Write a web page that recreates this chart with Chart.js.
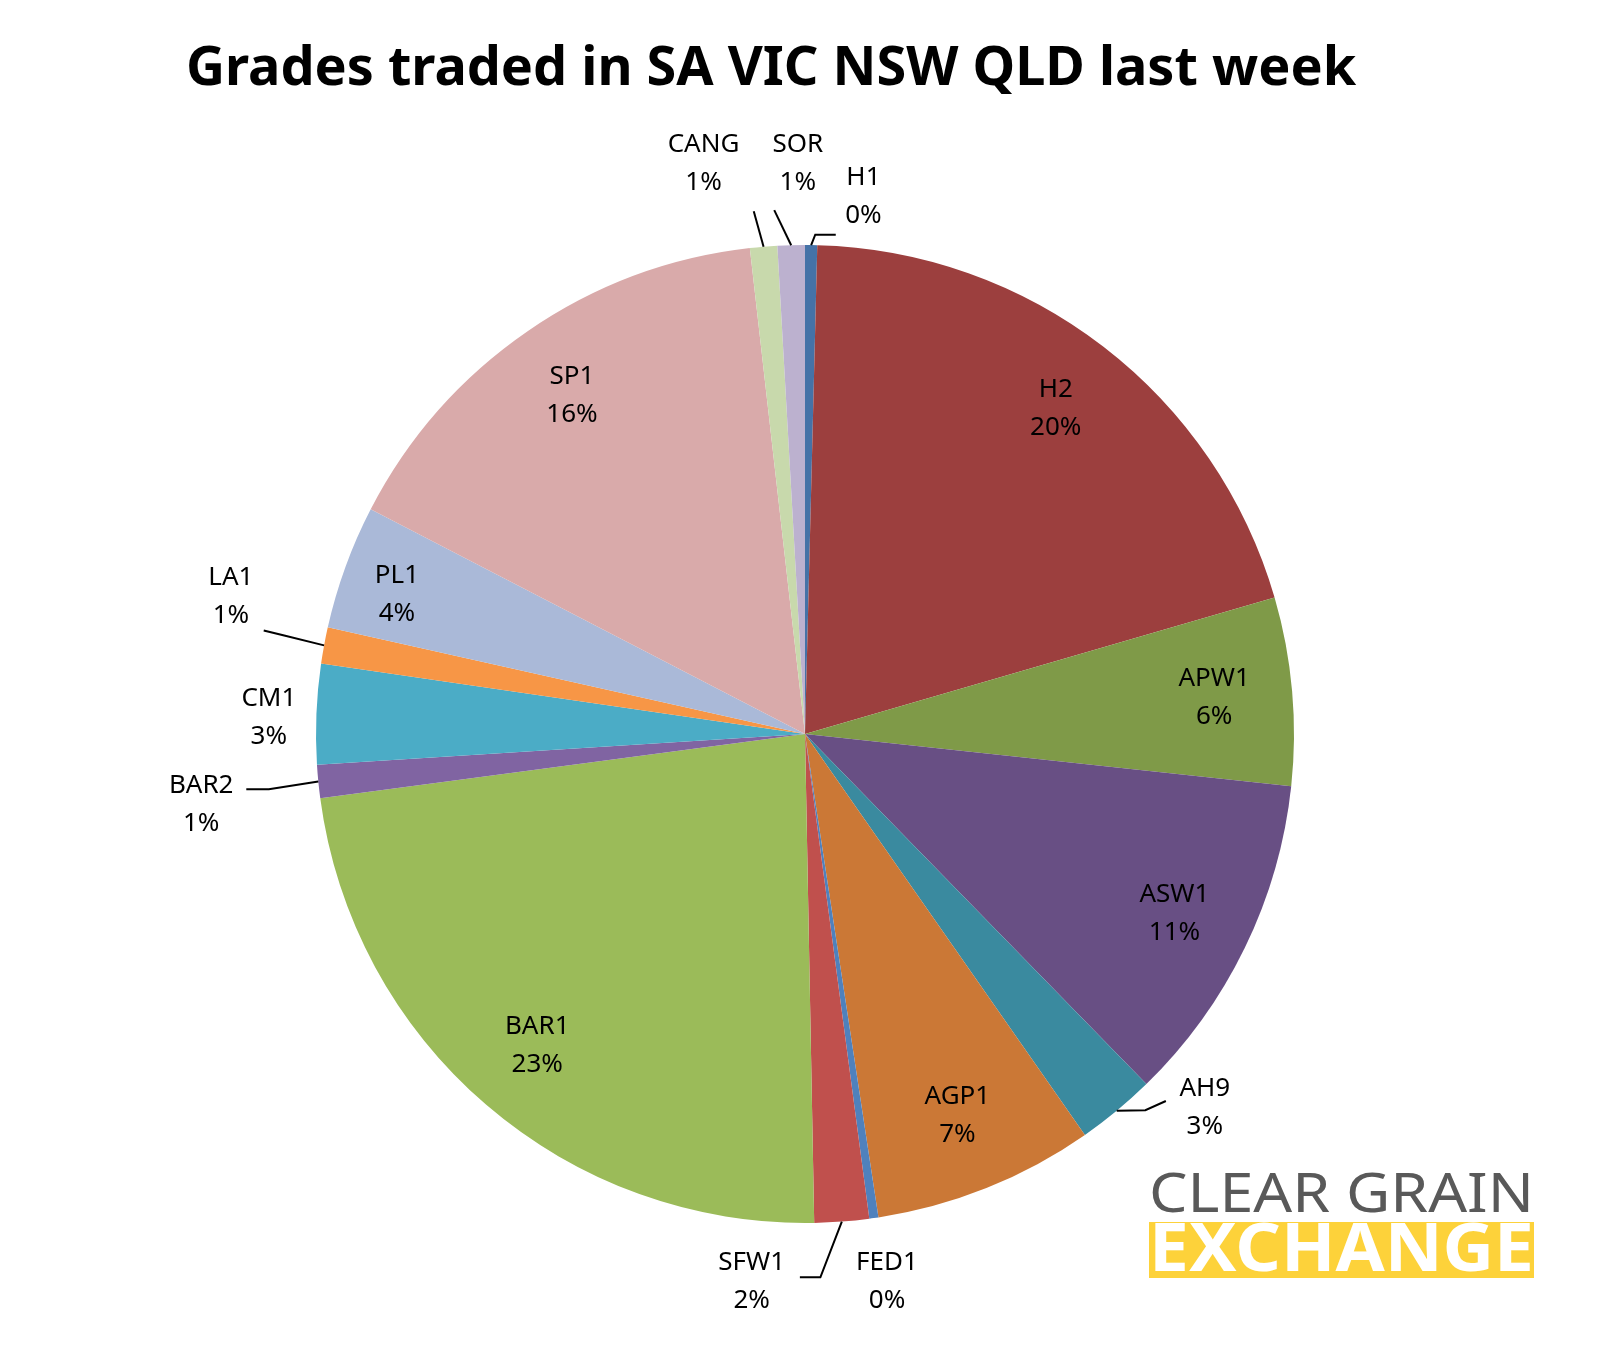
<!DOCTYPE html>
<html><head><meta charset="utf-8">
<script src="https://cdn.jsdelivr.net/npm/chart.js@4/dist/chart.umd.min.js"></script>
<style>html,body{margin:0;padding:0;background:#fff}#w{width:1609px;height:1351px}</style>
</head><body><div id="w"><canvas id="c"></canvas></div>
<script>
const grades = ["H1","H2","APW1","ASW1","AH9","AGP1","FED1","SFW1","BAR1","BAR2","CM1","LA1","PL1","SP1","CANG","SOR"];
const shares = [0.4,20.1,6.2,11.0,2.6,7.3,0.3,1.8,23.2,1.1,3.3,1.2,4.1,15.6,0.9,0.9];
const pctLabels = ["0%","20%","6%","11%","3%","7%","0%","2%","23%","1%","3%","1%","4%","16%","1%","1%"];
const colors = ["#4572a7","#9c3f3e","#7f9a48","#684f84","#3a8a9f","#cb7836","#4f81bd","#c0504d","#9bbb59","#8064a2","#4bacc6","#f79646","#aab9d8","#d9aaaa","#c8d9ac","#bcb1cf"];
const FONT = '"Noto Sans", "Open Sans", sans-serif';
// outside label placement, relative to pie centre in units of radius/477: [label x,y, elbow x,y, end x,y]
const OUT = {
  H1:[57,-524, 10,-487, 30,-487],
  SOR:[-7,-556, -30,-511, -30,-511],
  CANG:[-99,-556, -50,-510, -50,-510],
  AH9:[390,364, 332,367, 352,358],
  FED1:[80,534, null],
  SFW1:[-52,534, 15,530, -5,530],
  BAR2:[-589,69, -523,54, -545,54],
  CM1:[-523,-16, null],
  LA1:[-560,-134, -508,-96, -528,-101],
  PL1:[-398,-136, null]
};

const deco = {
  id:'deco',
  afterDraw(chart){
    const ctx = chart.ctx;
    const meta = chart.getDatasetMeta(0);
    ctx.save();
    ctx.fillStyle='#000';
    ctx.font = 'bold 54px '+FONT;
    ctx.textAlign='center'; ctx.textBaseline='middle';
    ctx.fillText('Grades traded in SA VIC NSW QLD last week', 771, 70);
    ctx.font = '26px '+FONT;
    meta.data.forEach((arc,i)=>{
      const a = (arc.startAngle+arc.endAngle)/2;
      const r = arc.outerRadius, cx=arc.x, cy=arc.y, k=r/477;
      const name = grades[i];
      const o = OUT[name];
      if (o) {
        const sx = cx+Math.cos(a)*r, sy = cy+Math.sin(a)*r;
        if (o[2]!==null) {
          ctx.strokeStyle='#000'; ctx.lineWidth=2;
          ctx.beginPath(); ctx.moveTo(sx,sy);
          ctx.lineTo(cx+o[2]*k, cy+o[3]*k); ctx.lineTo(cx+o[4]*k, cy+o[5]*k); ctx.stroke();
        }
        const lx=cx+o[0]*k, ly=cy+o[1]*k;
        ctx.fillText(name, lx, ly-19);
        ctx.fillText(pctLabels[i], lx, ly+19);
      } else {
        const lx = cx+Math.cos(a)*r*0.84, ly = cy+Math.sin(a)*r*0.84;
        ctx.fillText(name, lx, ly-19);
        ctx.fillText(pctLabels[i], lx, ly+19);
      }
    });
    // logo
    ctx.textAlign='left';
    ctx.fillStyle='#595959';
    ctx.font = '54px '+FONT;
    let w = ctx.measureText('CLEAR GRAIN').width;
    ctx.save(); ctx.translate(1149,1197); ctx.scale(385/w,1); ctx.fillText('CLEAR GRAIN',0,0); ctx.restore();
    ctx.fillStyle='#fdd23a';
    ctx.fillRect(1149,1222,385,56);
    ctx.fillStyle='#fff';
    ctx.font = 'bold 66px '+FONT;
    w = ctx.measureText('EXCHANGE').width;
    ctx.save(); ctx.translate(1149,1252); ctx.scale(385/w,1); ctx.fillText('EXCHANGE',0,0); ctx.restore();
    ctx.restore();
  }
};

new Chart(document.getElementById('c'), {
  type:'pie',
  data:{labels:grades, datasets:[{data:shares, backgroundColor:colors, borderWidth:0}]},
  options:{
    responsive:true, maintainAspectRatio:false, animation:false,
    layout:{padding:{top:245,bottom:128,left:316,right:315}},
    plugins:{legend:{display:false},tooltip:{enabled:false},title:{display:false}}
  },
  plugins:[deco]
});
</script></body></html>
